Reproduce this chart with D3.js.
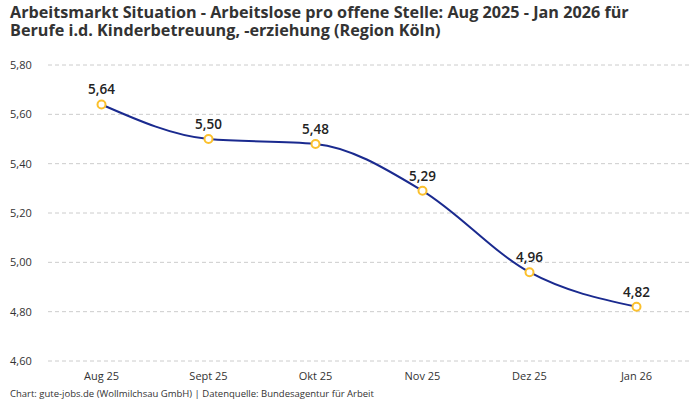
<!DOCTYPE html>
<html>
<head>
<meta charset="utf-8">
<script src="https://cdn.jsdelivr.net/npm/d3@7"></script>
<style>
body { margin: 0; background: #fff; }
svg { font-family: "Open Sans", "Noto Sans", sans-serif; }
</style>
</head>
<body>
<div id="container"></div>
<script>
var WIDTH = 700;
var HEIGHT = 400;

var months = ["Aug 25", "Sept 25", "Okt 25", "Nov 25", "Dez 25", "Jan 26"];
var values = [5.64, 5.50, 5.48, 5.29, 4.96, 4.82];
var yTicks = [4.60, 4.80, 5.00, 5.20, 5.40, 5.60, 5.80];

var titleLines = [
	"Arbeitsmarkt Situation - Arbeitslose pro offene Stelle: Aug 2025 - Jan 2026 für",
	"Berufe i.d. Kinderbetreuung, -erziehung (Region Köln)"
];
var footer = "Chart: gute-jobs.de (Wollmilchsau GmbH) | Datenquelle: Bundesagentur für Arbeit";

var fmt = function(v){ return v.toFixed(2).replace(".", ","); };

var svg = d3.select("#container").append("svg")
	.attr("width", WIDTH)
	.attr("height", HEIGHT);

// title, one text with two lines
svg.append("text")
	.attr("font-size", 16.2)
	.attr("font-weight", "bold")
	.attr("fill", "#333")
	.selectAll("tspan")
	.data(titleLines)
	.enter().append("tspan")
	.attr("x", 10)
	.attr("y", function(d, i){ return 18 + i * 18; })
	.text(function(d){ return d; });

var x = d3.scaleBand()
	.domain(months)
	.range([48, 690]);

var y = d3.scaleLinear()
	.domain([4.6, 5.8])
	.range([361, 65]);

// grid + y labels
var yAxis = svg.append("g");
yAxis.selectAll("line")
	.data(yTicks)
	.enter().append("line")
	.attr("x1", 48)
	.attr("x2", 690)
	.attr("y1", function(d){ return y(d); })
	.attr("y2", function(d){ return y(d); })
	.attr("stroke", "#ccc")
	.attr("stroke-dasharray", "4,3");

yAxis.selectAll("text")
	.data(yTicks)
	.enter().append("text")
	.attr("x", 10)
	.attr("y", function(d){ return y(d); })
	.attr("dy", "0.35em")
	.attr("font-size", 11)
	.attr("fill", "#333")
	.text(fmt);

// x labels
svg.append("g").selectAll("text")
	.data(months)
	.enter().append("text")
	.attr("x", function(d){ return x(d) + x.bandwidth() / 2; })
	.attr("y", 380)
	.attr("text-anchor", "middle")
	.attr("font-size", 11)
	.attr("fill", "#333")
	.text(function(d){ return d; });

var data = months.map(function(m, i){ return {m: m, v: values[i]}; });

var line = d3.line()
	.x(function(d){ return x(d.m) + x.bandwidth() / 2; })
	.y(function(d){ return y(d.v); })
	.curve(d3.curveMonotoneX);

svg.append("path")
	.datum(data)
	.attr("d", line)
	.attr("fill", "none")
	.attr("stroke", "#1a2a8f")
	.attr("stroke-width", 2);

svg.selectAll("circle.pt")
	.data(data)
	.enter().append("circle")
	.attr("class", "pt")
	.attr("cx", function(d){ return x(d.m) + x.bandwidth() / 2; })
	.attr("cy", function(d){ return y(d.v); })
	.attr("r", 4)
	.attr("fill", "#fff")
	.attr("stroke", "#fbc02d")
	.attr("stroke-width", 2);

svg.selectAll("text.lbl")
	.data(data)
	.enter().append("text")
	.attr("class", "lbl")
	.attr("x", function(d){ return x(d.m) + x.bandwidth() / 2; })
	.attr("y", function(d){ return y(d.v) - 10; })
	.attr("text-anchor", "middle")
	.attr("font-size", 13.5)
	.attr("font-weight", 600)
	.attr("fill", "#222")
	.text(function(d){ return fmt(d.v); });

svg.append("text")
	.attr("x", 10)
	.attr("y", 397)
	.attr("font-size", 9.5)
	.attr("fill", "#333")
	.text(footer);
</script>
</body>
</html>
